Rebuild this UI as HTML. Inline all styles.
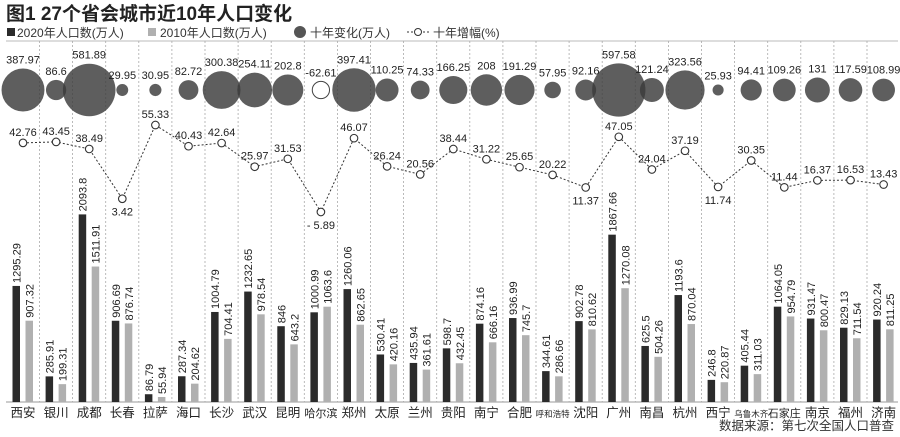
<!DOCTYPE html><html><head><meta charset="utf-8"><style>
body{margin:0;background:#fff}
svg{display:block;font-family:"Liberation Sans","Noto Sans CJK SC",sans-serif}
</style></head><body>
<svg id="s" width="900" height="437" viewBox="0 0 900 437" xmlns="http://www.w3.org/2000/svg">
<text x="6" y="20" font-size="19" font-weight="bold" fill="#222">图1 27个省会城市近10年人口变化</text>
<rect x="7" y="28" width="8" height="8" fill="#2b2b2b"/><text x="17" y="37" font-size="12" fill="#333">2020年人口数(万人)</text>
<rect x="148" y="28" width="8" height="8" fill="#b0b0b0"/><text x="160" y="37" font-size="12" fill="#333">2010年人口数(万人)</text>
<circle cx="300" cy="32" r="6" fill="#555"/><text x="310" y="37" font-size="12" fill="#333">十年变化(万人)</text>
<line x1="407" y1="32" x2="430" y2="32" stroke="#333" stroke-dasharray="2,2"/><circle cx="418" cy="32" r="3.5" fill="#fff" stroke="#333"/><text x="433" y="37" font-size="12" fill="#333">十年增幅(%)</text>
<line x1="6" y1="41" x2="898" y2="41" stroke="#bbb" stroke-width="1"/>
<line x1="6" y1="402" x2="898" y2="402" stroke="#bbb" stroke-width="1.5"/>
<g id="g"></g>
<text x="894" y="430" font-size="12.5" fill="#333" text-anchor="end">数据来源：第七次全国人口普查</text>
</svg>
<script>
var c=["西安","银川","成都","长春","拉萨","海口","长沙","武汉","昆明","哈尔滨","郑州","太原","兰州","贵阳","南宁","合肥","呼和浩特","沈阳","广州","南昌","杭州","西宁","乌鲁木齐","石家庄","南京","福州","济南"];
var a=[1295.29,285.91,2093.8,906.69,86.79,287.34,1004.79,1232.65,846,1000.99,1260.06,530.41,435.94,598.7,874.16,936.99,344.61,902.78,1867.66,625.5,1193.6,246.8,405.44,1064.05,931.47,829.13,920.24];
var b=[907.32,199.31,1511.91,876.74,55.94,204.62,704.41,978.54,643.2,1063.6,862.65,420.16,361.61,432.45,666.16,745.7,286.66,810.62,1270.08,504.26,870.04,220.87,311.03,954.79,800.47,711.54,811.25];
var d=[387.97,86.6,581.89,29.95,30.95,82.72,300.38,254.11,202.8,-62.61,397.41,110.25,74.33,166.25,208,191.29,57.95,92.16,597.58,121.24,323.56,25.93,94.41,109.26,131,117.59,108.99];
var p=[42.76,43.45,38.49,3.42,55.33,40.43,42.64,25.97,31.53,-5.89,46.07,26.24,20.56,38.44,31.22,25.65,20.22,11.37,47.05,24.04,37.19,11.74,30.35,11.44,16.37,16.53,13.43];
var below={3:1,9:1,17:1,21:1};
var h="",pts=[];
for(var i=0;i<27;i++){var cx=23+33.1*i;
if(i<26)h+='<line x1="'+(cx+16.5)+'" y1="41" x2="'+(cx+16.5)+'" y2="402" stroke="#aaa" stroke-dasharray="2,2" stroke-width="0.8"/>';}
for(var i=0;i<27;i++){var cx=23+33.1*i;
var ha=a[i]*0.0896,hb=b[i]*0.0896;
h+='<rect x="'+(cx-10.5)+'" y="'+(402-ha)+'" width="7.5" height="'+ha+'" fill="#2b2b2b"/>';
h+='<rect x="'+(cx+2.5)+'" y="'+(402-hb)+'" width="7.5" height="'+hb+'" fill="#b0b0b0"/>';
h+='<text transform="translate('+(cx-2.5)+','+(402-ha-3)+') rotate(-90)" font-size="11" fill="#222">'+a[i]+'</text>';
h+='<text transform="translate('+(cx+10.5)+','+(402-hb-3)+') rotate(-90)" font-size="11" fill="#222">'+b[i]+'</text>';
var fs=c[i].length>3?8.5:(c[i].length>2?11:12.5);
h+='<text x="'+cx+'" y="417" font-size="'+fs+'" fill="#222" text-anchor="middle">'+c[i]+'</text>';
pts.push([cx,203.6-1.42*p[i]]);}
for(var i=0;i<27;i++){var cx=pts[i][0];var r=1.09*Math.sqrt(Math.abs(d[i]));
h+=d[i]<0?'<circle cx="'+cx+'" cy="90" r="'+r+'" fill="#fff" stroke="#444" stroke-width="1"/>':'<circle cx="'+cx+'" cy="90" r="'+r+'" fill="#3a3a3a" fill-opacity="0.82"/>';}
for(var i=0;i<27;i++){var cx=pts[i][0];var r=1.09*Math.sqrt(Math.abs(d[i]));
h+='<text x="'+cx+'" y="'+(90-r-5)+'" font-size="11" fill="#222" text-anchor="middle">'+d[i]+'</text>';}
h+='<polyline points="'+pts.map(function(q){return q.join(",")}).join(" ")+'" fill="none" stroke="#333" stroke-dasharray="2,2" stroke-width="1"/>';
for(var i=0;i<27;i++){var q=pts[i];
h+='<circle cx="'+q[0]+'" cy="'+q[1]+'" r="3.8" fill="#fff" stroke="#333" stroke-width="1.1"/>';
var lab=p[i]<0?"- "+(-p[i]):p[i];
h+='<text x="'+q[0]+'" y="'+(below[i]?q[1]+17:q[1]-7)+'" font-size="11" fill="#222" text-anchor="middle">'+lab+'</text>';}
document.getElementById("g").innerHTML=h;
</script>
</body></html>
